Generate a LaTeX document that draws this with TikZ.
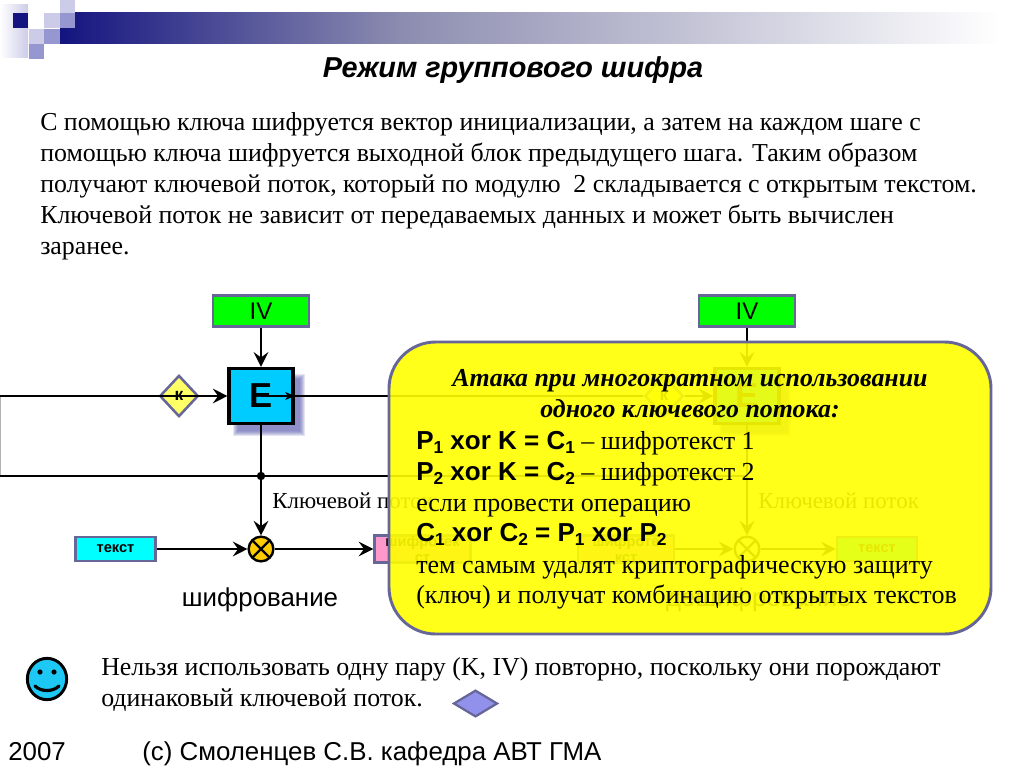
\documentclass[tikz,border=0pt]{standalone}
\usepackage{fontspec}
\setmainfont{Liberation Serif}
\setsansfont{Liberation Sans}
\usepackage{xcolor}
\usetikzlibrary{arrows.meta,positioning,shapes.geometric}
\definecolor{hdnavy}{RGB}{20,20,128}
\definecolor{hdmid}{RGB}{140,140,176}
\definecolor{hdlight}{RGB}{204,204,232}
\definecolor{hdsquare}{RGB}{150,150,208}
\definecolor{edgeblue}{RGB}{102,102,153}
\definecolor{ivgreen}{RGB}{0,255,0}
\definecolor{blockblue}{RGB}{0,204,255}
\definecolor{textcyan}{RGB}{0,255,255}
\definecolor{cipherpink}{RGB}{255,153,204}
\definecolor{keyyellow}{RGB}{255,255,102}
\definecolor{xoramber}{RGB}{255,204,0}
\definecolor{noteyellow}{RGB}{255,255,0}
\definecolor{smileblue}{RGB}{30,200,245}
\definecolor{markviolet}{RGB}{145,145,235}
\definecolor{shadeviolet}{RGB}{80,80,170}
\newcommand{\px}[1]{\fontsize{#1}{#1}\selectfont}
\newcommand{\lowsub}[1]{\raisebox{-0.35ex}{\fontsize{13}{13}\selectfont #1}}
\begin{document}
\begin{tikzpicture}[
  x=0.75pt,y=-0.75pt,
  ivbox/.style={draw=edgeblue,line width=1.9pt,fill=ivgreen,minimum width=72pt,minimum height=23.5pt,inner sep=0pt,font=\sffamily\px{18}},
  eblock/.style={draw=black,line width=2.3pt,fill=blockblue,minimum width=48pt,minimum height=41.5pt,inner sep=0pt,font=\sffamily\bfseries\px{26}},
  keynode/.style={diamond,draw=edgeblue,line width=1.9pt,fill=keyyellow,minimum width=29pt,minimum height=31pt,inner sep=0pt,font=\sffamily\bfseries\px{13}},
  xornode/.style={circle,draw=black,line width=1.8pt,fill=xoramber,minimum size=18.5pt,inner sep=0pt,
    path picture={\draw[line width=1.8pt] (path picture bounding box.north west) -- (path picture bounding box.south east)
      (path picture bounding box.north east) -- (path picture bounding box.south west);}},
  databox/.style={draw=edgeblue,line width=1.7pt,minimum width=60pt,minimum height=18pt,inner sep=0pt,align=center,font=\sffamily\bfseries\px{11}},
  link/.style={-{Stealth[length=11pt,width=11pt,inset=4pt]},line width=2.1pt,black},
  wire/.style={line width=2.2pt,black},
  prose/.style={align=left,anchor=north west,inner sep=0pt,font=\fontsize{19.4}{23.25}\selectfont},
  caption/.style={font=\sffamily\px{19.4},inner sep=0pt},
  notehead/.style={font=\bfseries\itshape\px{19.4},inner sep=0pt,anchor=base},
  noteline/.style={font=\px{19.5},inner sep=0pt,anchor=base west},
  softshade/.style={shadeviolet,opacity=.16}
]
  \useasboundingbox (0,0) rectangle (1024,767);
  % header
  \fill[left color=hdnavy,right color=hdmid] (60,13) rectangle (400,44);
  \fill[left color=hdmid,right color=white] (400,13) rectangle (1000,44);
  \fill[left color=white,right color=hdlight] (0,5) rectangle (28,58);
  \fill[hdnavy] (13,13) rectangle (28,28);
  \fill[hdlight] (44,13) rectangle (60,28);
  \fill[hdsquare] (60,13) rectangle (75,28);
  \fill[hdlight] (60,0) rectangle (75,13);
  \fill[hdlight] (29,29) rectangle (44,44);
  \fill[hdsquare] (44,29) rectangle (60,44);
  \fill[hdsquare] (29,44) rectangle (44,59);
  \node[font=\sffamily\bfseries\itshape\px{21.6},inner sep=0pt] (title) at (513,70) {Режим группового шифра};
  \node[prose] (intro) at (40,112) {С помощью ключа шифруется вектор инициализации, а затем на каждом шаге с\\
    помощью ключа шифруется выходной блок предыдущего шага. Таким образом\\
    получают ключевой поток, который по модулю\ \ 2 складывается с открытым текстом.\\
    Ключевой поток не зависит от передаваемых данных и может быть вычислен\\
    заранее.};

  % shadows of both E blocks
  \foreach \cx in {261,747}
    \foreach \d in {0,...,5}
      \fill[softshade] (\cx-28+\d,374+\d) rectangle (\cx+44-\d,436-\d);

  % encryption side
  \node[ivbox] (ivl) at (261,311) {IV};
  \node[eblock] (el) at (261,396) {E};
  \node[keynode] (kl) at (179,396) {к};
  \node[xornode] (xl) at (261,549) {};
  \node[databox,fill=textcyan] (pl) at (115.5,549) {текст};
  \node[databox,fill=cipherpink,minimum width=72pt] (cl) at (422.5,549) {шифротек\\[1pt]ст};
  \coordinate (leftk) at (0,396);
  \coordinate (leftj) at (0,476);
  \coordinate (jl) at (261,476);
  \draw[gray!60,line width=1pt] (leftk) -- (leftj);
  \draw[link] (ivl) -- (el);
  \draw[link] (leftk) -- (el.west);
  \draw[-{Stealth[length=7pt,width=6pt,inset=2pt]},line width=1.4pt] (el.center) -- (el.east);
  \draw[wire] (leftj) -- (jl);
  \fill (jl) circle (4.2);
  \draw[link] (el) -- (xl);
  \draw[link] (pl) -- (xl);
  \draw[link] (xl) -- (cl);
  \node[font=\px{17.2},anchor=west,inner sep=0pt] (keyl) at (272,501) {Ключевой поток};
  \node[caption] (encl) at (260,600) {шифрование};

  % decryption side, under the note
  \node[ivbox] (ivr) at (747,311) {IV};
  \node[eblock] (er) at (747,396) {E};
  \node[keynode] (kr) at (664,396) {к};
  \node[xornode,fill=white] (xr) at (747,549) {};
  \node[databox,fill=cipherpink,minimum width=72pt] (cr) at (626,549) {шифроте\\[1pt]кст};
  \node[databox,fill=textcyan] (pr) at (877,549) {текст};
  \coordinate (jr) at (747,476);
  \draw[link] (ivr) -- (er);
  \draw[wire,line width=1.7pt] (el.east) -- (kr);
  \draw[link] (kr) -- (er.west);
  \draw[wire] (jl) -- (jr);
  \draw[link] (er) -- (xr);
  \draw[link] (cr) -- (xr);
  \draw[link] (xr) -- (pr);
  \node[font=\px{17.2},anchor=west,inner sep=0pt] (keyr) at (758,501) {Ключевой поток};
  \node[caption] (decr) at (759,600) {дешифрование};

  % note
  \fill[noteyellow,fill opacity=.9,rounded corners=35pt] (389,342) rectangle (991,634);
  \draw[edgeblue,line width=2.2pt,rounded corners=35pt] (389,342) rectangle (991,634);
  \node[notehead] (attack) at (690,386) {Атака при многократном использовании};
  \node[notehead] (attackb) at (690,417) {одного ключевого потока:};
  \node[noteline] (eqa) at (416,449) {{\sffamily\bfseries P\lowsub{1} xor K = C\lowsub{1}} – шифротекст 1};
  \node[noteline] (eqb) at (416,480) {{\sffamily\bfseries P\lowsub{2} xor K = C\lowsub{2}} – шифротекст 2};
  \node[noteline] (ifline) at (416,511) {если провести операцию};
  \node[noteline] (eqc) at (416,541) {{\sffamily\bfseries C\lowsub{1} xor C\lowsub{2} = P\lowsub{1} xor P\lowsub{2}}};
  \node[noteline] (thus) at (416,573) {тем самым удалят криптографическую защиту};
  \node[noteline] (thusb) at (416,603) {(ключ) и получат комбинацию открытых текстов};

  % footer
  \node[ellipse,draw=black,line width=2.2pt,fill=smileblue,minimum width=29.5pt,minimum height=31pt,inner sep=0pt] (smile) at (47,679) {};
  \fill (smile.center) ++(-7,-7) circle (2.6) ++(14,0) circle (2.6);
  \draw[line width=2.4pt,line cap=round] (smile.center) ++(-12,7) .. controls +(6,6) and +(-6,6) .. +(24,0);
  \node[prose] (warn) at (101,657) {Нельзя использовать одну пару (K, IV) повторно, поскольку они порождают\\
    одинаковый ключевой поток.};
  \node[diamond,draw=edgeblue,line width=1.7pt,fill=markviolet,minimum width=33pt,minimum height=20pt,inner sep=0pt] (mark) at (475.5,703.5) {};
  \node[font=\sffamily\px{19.4},inner sep=0pt,anchor=base west] (year) at (8,760) {2007};
  \node[font=\sffamily\px{19.4},inner sep=0pt,anchor=base west] (copy) at (142,760) {(с) Смоленцев С.В. кафедра АВТ ГМА};
\end{tikzpicture}
\end{document}
